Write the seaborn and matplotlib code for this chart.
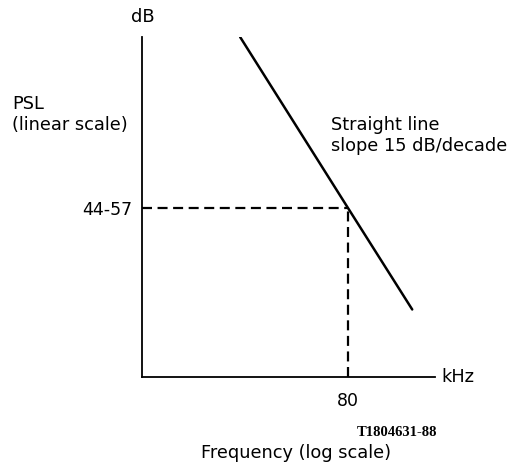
import seaborn as sns
import matplotlib.pyplot as plt
import pandas as pd

# --- Data (schematic PSL vs frequency) ---
freq_khz = [26.9, 80, 152.6]
psl_db = [51.7, 44.57, 40.36]
ref_freq = 80
ref_psl = 44.57
x_limits = (10, 192)
y_limits = (37.55, 51.7)

df = pd.DataFrame({"freq": freq_khz, "psl": psl_db})

sns.set_style("white")
plt.rcParams["font.family"] = ["DejaVu Sans"]
plt.rcParams["text.color"] = "black"
plt.rcParams["xtick.color"] = "black"
plt.rcParams["ytick.color"] = "black"

W, H = 515, 467
fig = plt.figure(figsize=(W / 100, H / 100), dpi=100)
ax = fig.add_axes([142 / W, 1 - 377 / H, 293 / W, 340 / H])

sns.lineplot(data=df, x="freq", y="psl", ax=ax, color="black", linewidth=1.8)
ax.set_xscale("log")
ax.set_xlim(*x_limits)
ax.set_ylim(*y_limits)

# dashed guides to the reference point
ax.plot([x_limits[0], ref_freq], [ref_psl, ref_psl], color="black",
        linewidth=1.6, dashes=(4.5, 2.5))
ax.plot([ref_freq, ref_freq], [y_limits[0], ref_psl], color="black",
        linewidth=1.6, dashes=(4.5, 2.5))

for side in ["top", "right"]:
    ax.spines[side].set_visible(False)
for side in ["left", "bottom"]:
    ax.spines[side].set_linewidth(1.3)
    ax.spines[side].set_color("black")

ax.set_xticks([ref_freq])
ax.set_xticklabels(["80"])
ax.xaxis.set_minor_locator(plt.NullLocator())
ax.set_yticks([ref_psl])
ax.set_yticklabels(["44-57"])
ax.tick_params(axis="both", length=0, labelsize=12.5)
ax.tick_params(axis="y", pad=7)
ax.tick_params(axis="x", pad=11)
ax.set_xlabel("")
ax.set_ylabel("")

def ftext(x, y, s, **kw):
    fig.text(x / W, 1 - y / H, s, **kw)

fs = 12.8
ftext(143, 17, "dB", ha="center", va="center", fontsize=fs)
ftext(441, 377, "kHz", ha="left", va="center", fontsize=fs)
ftext(12, 104, "PSL", ha="left", va="center", fontsize=fs)
ftext(12, 125, "(linear scale)", ha="left", va="center", fontsize=fs)
ftext(331, 125, "Straight line", ha="left", va="center", fontsize=fs)
ftext(331, 146, "slope 15 dB/decade", ha="left", va="center", fontsize=fs)
ftext(357, 432, "T1804631-88", ha="left", va="center", fontsize=10.5,
      family="Liberation Serif", weight="bold")
ftext(296, 453, "Frequency (log scale)", ha="center", va="center", fontsize=fs)

plt.savefig("out.png", dpi=100)
